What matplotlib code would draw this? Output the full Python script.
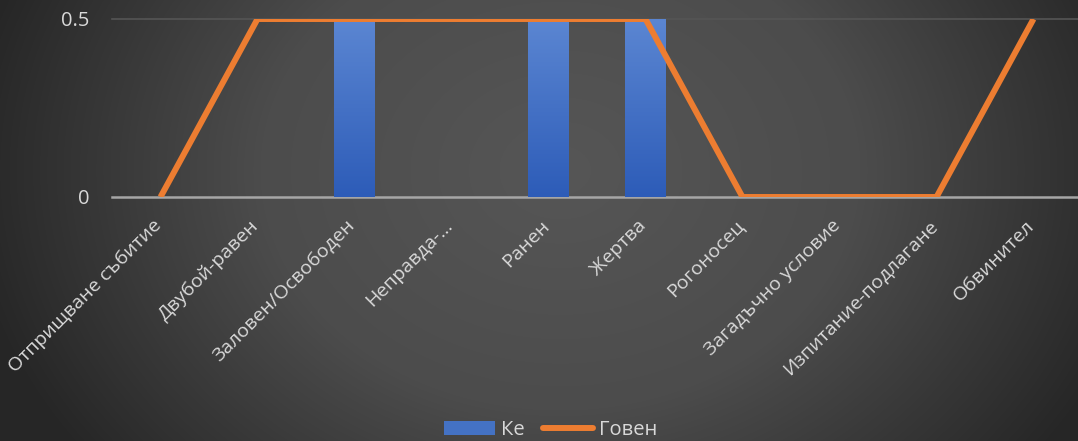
import numpy as np
import matplotlib.pyplot as plt
from matplotlib.colors import LinearSegmentedColormap
from matplotlib.patches import Patch
from matplotlib.lines import Line2D
from matplotlib.transforms import ScaledTranslation

plt.rcParams['font.family'] = ['Open Sans', 'DejaVu Sans']

categories = ['Отприщване събитие', 'Двубой-равен', 'Заловен/Освободен', 'Неправда-…',
              'Ранен', 'Жертва', 'Рогоносец', 'Загадъчно условие',
              'Изпитание-подлагане', 'Обвинител']
ke = [0, 0, 0.5, 0, 0.5, 0.5, 0, 0, 0, 0]
goven = [0, 0.5, 0.5, 0.5, 0.5, 0.5, 0, 0, 0, 0.5]

fig = plt.figure(figsize=(10.78, 4.41), dpi=100)

# radial background
bg = fig.add_axes([0, 0, 1, 1], zorder=-10)
yy, xx = np.mgrid[0:441, 0:1078]
r = np.sqrt(((xx - 560) / 600.0) ** 2 + ((yy - 170) / 480.0) ** 2)
r = np.clip(r, 0, 1)
bg_cmap = LinearSegmentedColormap.from_list('bg', ['#565656', '#4c4c4c', '#262626'])
bg.imshow(r, cmap=bg_cmap, aspect='auto', extent=[0, 1, 0, 1], vmin=0, vmax=1)
bg.axis('off')

ax = fig.add_axes([112 / 1078, 244 / 441, 970 / 1078, 178 / 441])
ax.set_facecolor('none')
x = np.arange(len(categories))

bars = ax.bar(x, ke, width=0.42, color='#4472C4', zorder=2, label='Ке')
grad = np.linspace(0, 1, 256).reshape(-1, 1)
bar_cmap = LinearSegmentedColormap.from_list('bar', ['#2d5cb8', '#5b86d2'])
for b in bars:
    if b.get_height() <= 0:
        continue
    x0, w, h = b.get_x(), b.get_width(), b.get_height()
    im = ax.imshow(grad, cmap=bar_cmap, aspect='auto', origin='lower',
                   extent=[x0, x0 + w, 0, h], zorder=2.5)
    im.set_clip_path(b)

ax.plot(x, goven, color='#ED7D31', lw=4.3, zorder=3, solid_capstyle='butt',
        solid_joinstyle='miter', label='Говен')

ax.set_xlim(-0.5, len(categories) - 0.5)
ax.set_ylim(0, 0.5)
ax.set_yticks([0, 0.5])
ax.set_yticklabels(['0', '0.5'])
ax.axhline(0.5, color='#555555', lw=1.2, zorder=1, clip_on=False)
ax.axhline(0, color='#a6a6a6', lw=1.8, zorder=1.5, clip_on=False)
for s in ax.spines.values():
    s.set_visible(False)
ax.tick_params(axis='both', length=0, colors='#d9d9d9')
ax.tick_params(axis='y', pad=16, labelsize=14.5)
ax.set_xticks(x)
ax.set_xticklabels(categories, rotation=45, ha='right', rotation_mode='anchor',
                   fontsize=14)
ax.tick_params(axis='x', pad=14)
shift = ScaledTranslation(-6 / 72, 0, fig.dpi_scale_trans)
for lbl in ax.get_xticklabels():
    lbl.set_transform(lbl.get_transform() + shift)

handles = [Patch(facecolor='#4472C4', edgecolor='none'),
           Line2D([0], [0], color='#ED7D31', lw=4.3, solid_capstyle='round')]
fig.legend(handles, ['Ке', 'Говен'], loc='center', bbox_to_anchor=(0.511, 0.025),
           ncol=2, frameon=False, fontsize=14.5, labelcolor='#d9d9d9',
           handlelength=2.5, handleheight=0.7, handletextpad=0.3, columnspacing=0.9)

fig.savefig('out.png', dpi=100)
